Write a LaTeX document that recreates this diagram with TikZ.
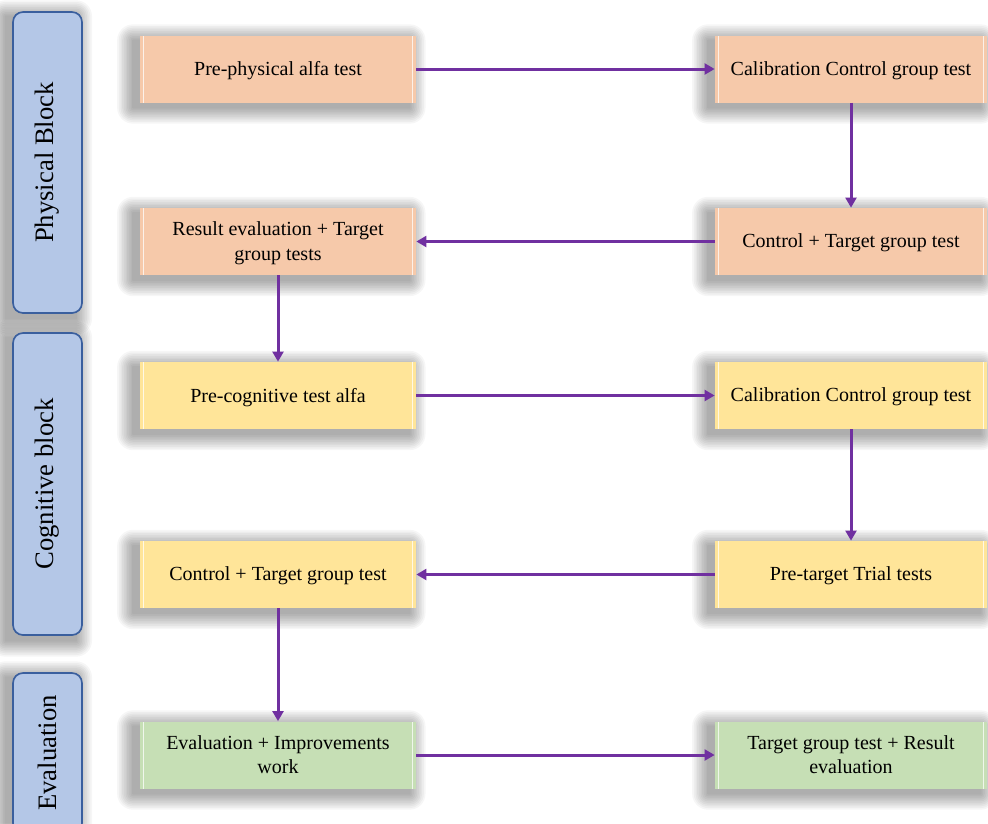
\documentclass[tikz,border=0pt]{standalone}
\usepackage{fontspec}
\usepackage{graphicx}
\setmainfont{Liberation Serif}
\usetikzlibrary{arrows.meta,backgrounds}

\definecolor{peach}{HTML}{F6C9AA}
\definecolor{sand}{HTML}{FFE599}
\definecolor{sage}{HTML}{C6DFB5}
\definecolor{sky}{HTML}{B4C7E7}
\definecolor{skyedge}{HTML}{3A5F9E}
\definecolor{flow}{HTML}{7030A0}

% soft drop shadow built from stacked translucent rectangles
\newcommand\castshadow[1]{%
  \foreach \r in {0.5,1.5,...,9.5}{%
    \fill[black, opacity=0.035, rounded corners=\r pt]
      ([xshift=-4pt-\r pt, yshift=-3pt-\r pt]#1.south west) rectangle
      ([xshift=-4pt+\r pt, yshift=-3pt+\r pt]#1.north east);
  }}

\tikzset{
  stepbox/.style={rectangle, minimum height=40.2pt, inner sep=2pt,
      text depth=0.6pt, align=center, font=\fontsize{12}{14.5}\selectfont,
      path picture={
        \draw[white, opacity=0.75, line width=0.8pt]
          ([xshift=2.2pt]path picture bounding box.south west) --
          ([xshift=2.2pt]path picture bounding box.north west);
        \draw[white, opacity=0.75, line width=0.8pt]
          ([xshift=-2.2pt]path picture bounding box.south east) --
          ([xshift=-2.2pt]path picture bounding box.north east);
      }},
  leftbox/.style={stepbox, minimum width=165.6pt},
  rightbox/.style={stepbox, minimum width=163.2pt},
  blocklabel/.style={rectangle, rounded corners=6pt, fill=sky,
      draw=skyedge, line width=1pt, minimum width=41.4pt, inner sep=0pt,
      font=\fontsize{16}{19}\selectfont},
  flowarrow/.style={draw=flow, line width=1.8pt,
      -{Triangle[length=6pt,width=6.5pt]}}
}

\begin{document}
\begin{tikzpicture}[x=0.6pt, y=-0.6pt]
  \useasboundingbox (0,0) rectangle (988,823);
  \clip (0,0) rectangle (988,823);

  % block labels on the left
  \node[blocklabel, minimum height=180.6pt] (phys) at (47.5,162.5)
    {\rotatebox{90}{Physical Block}};
  \node[blocklabel, minimum height=181.2pt] (cogn) at (47.5,484)
    {\rotatebox{90}{Cognitive block}};
  \node[blocklabel, minimum height=96pt] (eval) at (47.5,753)
    {\rotatebox{90}{Evaluation}};

  % physical block
  \node[leftbox, fill=peach] (a1) at (278,69) {Pre-physical alfa test};
  \node[rightbox, fill=peach] (b1) at (851,69) {Calibration Control group test};
  \node[rightbox, fill=peach] (b2) at (851,241.5) {Control + Target group test};
  \node[leftbox, fill=peach] (a2) at (278,241.5) {Result evaluation + Target\\group tests};

  % cognitive block
  \node[leftbox, fill=sand] (a3) at (278,395.5) {Pre-cognitive test alfa};
  \node[rightbox, fill=sand] (b3) at (851,395.5) {Calibration Control group test};
  \node[rightbox, fill=sand] (b4) at (851,574.5) {Pre-target Trial tests};
  \node[leftbox, fill=sand] (a4) at (278,574.5) {Control + Target group test};

  % evaluation
  \node[leftbox, fill=sage] (a5) at (278,755) {Evaluation + Improvements\\work};
  \node[rightbox, fill=sage] (b5) at (851,755) {Target group test + Result\\evaluation};

  % shadows behind every box
  \begin{scope}[on background layer]
    \fill[white] (0,0) rectangle (988,823);
    \foreach \n in {phys,cogn,eval,a1,b1,a2,b2,a3,b3,a4,b4,a5,b5}{\castshadow{\n}}
  \end{scope}

  % flow
  \draw[flowarrow] (a1) -- (b1);
  \draw[flowarrow] (b1) -- (b2);
  \draw[flowarrow] (b2) -- (a2);
  \draw[flowarrow] (a2) -- (a3);
  \draw[flowarrow] (a3) -- (b3);
  \draw[flowarrow] (b3) -- (b4);
  \draw[flowarrow] (b4) -- (a4);
  \draw[flowarrow] (a4) -- (a5);
  \draw[flowarrow] (a5) -- (b5);
\end{tikzpicture}
\end{document}
